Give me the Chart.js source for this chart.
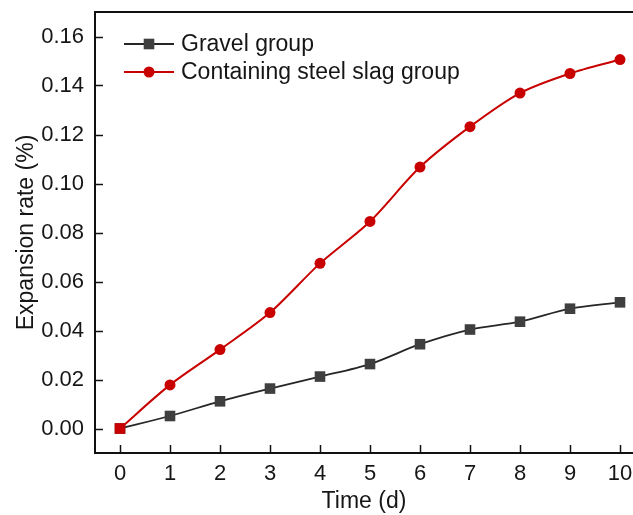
<!DOCTYPE html>
<html>
<head>
<meta charset="utf-8">
<script src="https://cdn.jsdelivr.net/npm/chart.js@4/dist/chart.umd.min.js"></script>
<style>
  html, body { margin: 0; padding: 0; background: #fff; }
  #wrap { width: 633px; height: 515px; }
</style>
</head>
<body>
<div id="wrap"><canvas id="chart"></canvas></div>
<script>
// Data
const days = [0, 1, 2, 3, 4, 5, 6, 7, 8, 9, 10];
const gravel = [0, 0.0051, 0.0111, 0.0163, 0.0212, 0.0263, 0.0344, 0.0404, 0.0436, 0.0489, 0.0515];
const steelSlag = [0, 0.0178, 0.0322, 0.0473, 0.0674, 0.0845, 0.1067, 0.1232, 0.1369, 0.1449, 0.1506];
const xTicks = [0, 1, 2, 3, 4, 5, 6, 7, 8, 9, 10];
const yTicks = [0, 0.02, 0.04, 0.06, 0.08, 0.10, 0.12, 0.14, 0.16];

const FONT = "'Liberation Sans', Arial, sans-serif";
const RED = '#c80000';
const GREY = '#3f3f3f';

// Inward tick marks, top frame line and in-plot legend
const framePlugin = {
    id: 'frame',
    afterDraw(chart) {
        const ctx = chart.ctx;
        const area = chart.chartArea;
        const xs = chart.scales.x, ys = chart.scales.y;
        ctx.save();
        ctx.strokeStyle = '#111';
        ctx.lineWidth = 2;
        ctx.beginPath();
        ctx.moveTo(area.left - 1, area.top);
        ctx.lineTo(area.right, area.top);
        ctx.stroke();

        ctx.lineWidth = 1.5;
        yTicks.forEach(v => {
            const y = Math.round(ys.getPixelForValue(v)) + 0.5;
            ctx.beginPath();
            ctx.moveTo(area.left, y);
            ctx.lineTo(area.left + 8, y);
            ctx.stroke();
        });
        xTicks.forEach(v => {
            const x = Math.round(xs.getPixelForValue(v)) + 0.5;
            ctx.beginPath();
            ctx.moveTo(x, area.bottom);
            ctx.lineTo(x, area.bottom - 8);
            ctx.stroke();
        });

        // legend
        const x0 = area.left + 29, x1 = area.left + 79, mid = (x0 + x1) / 2;
        chart.data.datasets.forEach((ds, i) => {
            const y = area.top + 32 + i * 28;
            ctx.strokeStyle = ds.borderColor;
            ctx.lineWidth = ds.borderWidth;
            ctx.beginPath();
            ctx.moveTo(x0, y);
            ctx.lineTo(x1, y);
            ctx.stroke();
            ctx.fillStyle = ds.backgroundColor;
            ctx.beginPath();
            if (ds.legendStyle === 'rect') {
                ctx.rect(mid - 5.3, y - 5.3, 10.6, 10.6);
            } else {
                ctx.arc(mid, y, 5.5, 0, Math.PI * 2);
            }
            ctx.fill();
            ctx.fillStyle = '#161616';
            ctx.font = '23px ' + FONT;
            ctx.textBaseline = 'middle';
            ctx.textAlign = 'left';
            ctx.fillText(ds.label, x1 + 7, y + 1);
        });
        ctx.restore();
    }
};

new Chart(document.getElementById('chart'), {
    type: 'line',
    data: {
        labels: days,
        datasets: [
            {
                label: 'Gravel group',
                data: gravel,
                borderColor: '#262626',
                backgroundColor: GREY,
                borderWidth: 1.8,
                pointStyle: 'rect',
                pointRadius: 7.5,
                pointBorderWidth: 0,
                tension: 0.3,
                legendStyle: 'rect',
                order: 1
            },
            {
                label: 'Containing steel slag group',
                data: steelSlag,
                borderColor: RED,
                backgroundColor: RED,
                borderWidth: 2,
                pointStyle: days.map((d, i) => i === 0 ? 'rect' : 'circle'),
                pointRadius: days.map((d, i) => i === 0 ? 7.5 : 5.5),
                pointBorderWidth: 0,
                tension: 0.3,
                legendStyle: 'circle',
                order: 0
            }
        ]
    },
    options: {
        responsive: true,
        maintainAspectRatio: false,
        animation: false,
        layout: { padding: { top: 12, right: 0, left: 0, bottom: 0 }, autoPadding: false },
        plugins: {
            legend: { display: false },
            tooltip: { enabled: false }
        },
        scales: {
            x: {
                type: 'linear',
                min: -0.5,
                max: 10.26,
                afterBuildTicks: scale => { scale.ticks = xTicks.map(v => ({ value: v })); },
                afterFit: scale => {
                    scale.height = 62;
                    scale.paddingLeft = 0;
                    scale.paddingRight = 0;
                },
                grid: { display: true, drawOnChartArea: false, drawTicks: false },
                border: { display: true, color: '#111', width: 2 },
                ticks: {
                    color: '#161616',
                    font: { family: FONT, size: 22 },
                    padding: 8,
                    maxRotation: 0,
                    autoSkip: false,
                    callback: v => String(v)
                },
                title: {
                    display: true,
                    text: 'Time (d)',
                    color: '#161616',
                    font: { family: FONT, size: 23 },
                    padding: { top: 0, bottom: 0 }
                }
            },
            y: {
                min: -0.01,
                max: 0.17,
                afterBuildTicks: scale => { scale.ticks = yTicks.map(v => ({ value: v })); },
                afterFit: scale => {
                    scale.width = 95;
                    scale.paddingTop = 0;
                    scale.paddingBottom = 0;
                },
                grid: { display: true, drawOnChartArea: false, drawTicks: false },
                border: { display: true, color: '#111', width: 2 },
                ticks: {
                    color: '#161616',
                    font: { family: FONT, size: 22 },
                    padding: 11,
                    autoSkip: false,
                    callback: v => v.toFixed(2)
                },
                title: {
                    display: true,
                    text: 'Expansion rate (%)',
                    color: '#161616',
                    font: { family: FONT, size: 23 },
                    padding: { top: 13, bottom: 0 }
                }
            }
        }
    },
    plugins: [framePlugin]
});
</script>
</body>
</html>
